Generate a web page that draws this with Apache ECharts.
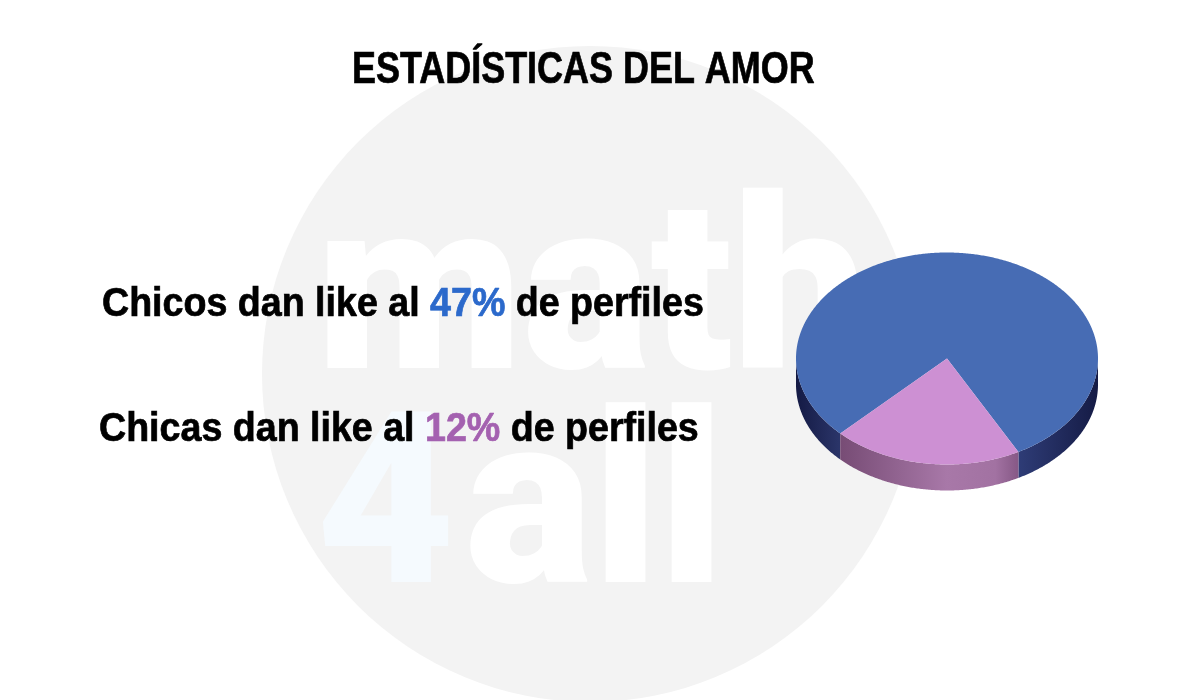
<!DOCTYPE html>
<html>
<head>
<meta charset="utf-8">
<style>html,body{margin:0;padding:0;background:#fff}#c{width:1200px;height:700px}</style>
<script src="https://cdn.jsdelivr.net/npm/echarts@6/dist/echarts.min.js"></script>
</head>
<body>
<div id="c"></div>
<script>
var titleText = 'ESTADÍSTICAS DEL AMOR';
var categories = ['Chicos', 'Chicas'];
var values = [47, 12];
var textColors = ['#2b69cb', '#a461b0'];
var topColors = ['#476cb4', '#cd90d3'];
var wallStops = [
  [[0, '#141a44'], [0.14, '#2a3468'], [0.73, '#2f3d78'], [1, '#151b45']],
  [[0.14, '#764b74'], [0.5, '#a878a8'], [0.66, '#a272a2'], [0.73, '#885a88']]
];
var startAngle = 135;

var PIE = {cx: 947, cy: 358.5, rx: 151, ry: 106, depth: 26};
var FONT = '"Liberation Sans", Arial, sans-serif';
var WM = '900 240px Roboto, ' + FONT;

function line(i) {
  return '{t|' + categories[i] + ' dan like al }{p' + i + '|' + values[i] + '%}{t| de perfiles}';
}
function rich() {
  return {
    t: {font: 'bold 40px ' + FONT, fill: '#000', stroke: '#000', lineWidth: 0.7},
    p0: {font: 'bold 40px ' + FONT, fill: textColors[0], stroke: textColors[0], lineWidth: 0.7},
    p1: {font: 'bold 40px ' + FONT, fill: textColors[1], stroke: textColors[1], lineWidth: 0.7}
  };
}

function renderSlice(params, api) {
  var total = values.reduce(function (a, b) { return a + b; }, 0);
  var before = 0;
  for (var k = 0; k < params.dataIndex; k++) before += values[k];
  var a0 = startAngle + before / total * 360;
  var a1 = a0 + api.value(1) / total * 360;
  var P = PIE, children = [], run = [], top = [[P.cx, P.cy]];
  function flush() {
    if (run.length > 1) {
      var pts = run.slice();
      for (var j = run.length - 1; j >= 0; j--) pts.push([run[j][0], run[j][1] + P.depth]);
      children.push({
        type: 'polygon',
        shape: {points: pts},
        style: {
          fill: new echarts.graphic.LinearGradient(P.cx - P.rx, 0, P.cx + P.rx, 0,
            wallStops[params.dataIndex].map(function (s) { return {offset: s[0], color: s[1]}; }), true)
        }
      });
    }
    run = [];
  }
  var n = Math.ceil(a1 - a0) * 2;
  for (var i = 0; i <= n; i++) {
    var a = (a0 + (a1 - a0) * i / n) * Math.PI / 180;
    var p = [P.cx + P.rx * Math.cos(a), P.cy + P.ry * Math.sin(a)];
    top.push(p);
    if (Math.sin(a) >= -0.001) run.push(p); else flush();
  }
  flush();
  children.push({type: 'polygon', shape: {points: top}, style: {fill: topColors[params.dataIndex]}});
  return {type: 'group', children: children};
}

var chart = echarts.init(document.getElementById('c'), null, {renderer: 'canvas'});
chart.setOption({
  animation: false,
  backgroundColor: '#ffffff',
  graphic: {elements: [
    {type: 'circle', z: 0, shape: {cx: 590, cy: 374, r: 328}, style: {fill: '#f3f3f3'}},
    {type: 'text', z: 1, x: 316, y: 428, style: {text: 'math', font: WM, fill: '#ffffff', verticalAlign: 'bottom'}},
    {type: 'text', z: 1, x: 316, y: 642, style: {text: '4', font: WM, fill: '#f5fafe', verticalAlign: 'bottom'}},
    {type: 'text', z: 1, x: 465, y: 642, style: {text: 'all', font: WM, fill: '#ffffff', verticalAlign: 'bottom'}},
    {type: 'text', z: 5, x: 352, y: 49, scaleX: 0.817, style: {text: titleText, font: 'bold 44px ' + FONT, fill: '#000', stroke: '#000', lineWidth: 0.7}},
    {type: 'text', z: 5, x: 102, y: 285, scaleX: 0.94, style: {text: line(0), rich: rich()}},
    {type: 'text', z: 5, x: 99, y: 410, scaleX: 0.94, style: {text: line(1), rich: rich()}}
  ]},
  series: [{
    type: 'custom',
    coordinateSystem: 'none',
    z: 3,
    silent: true,
    data: categories.map(function (c, i) { return [c, values[i]]; }),
    dimensions: ['name', 'value'],
    renderItem: renderSlice
  }]
});
</script>
</body>
</html>
